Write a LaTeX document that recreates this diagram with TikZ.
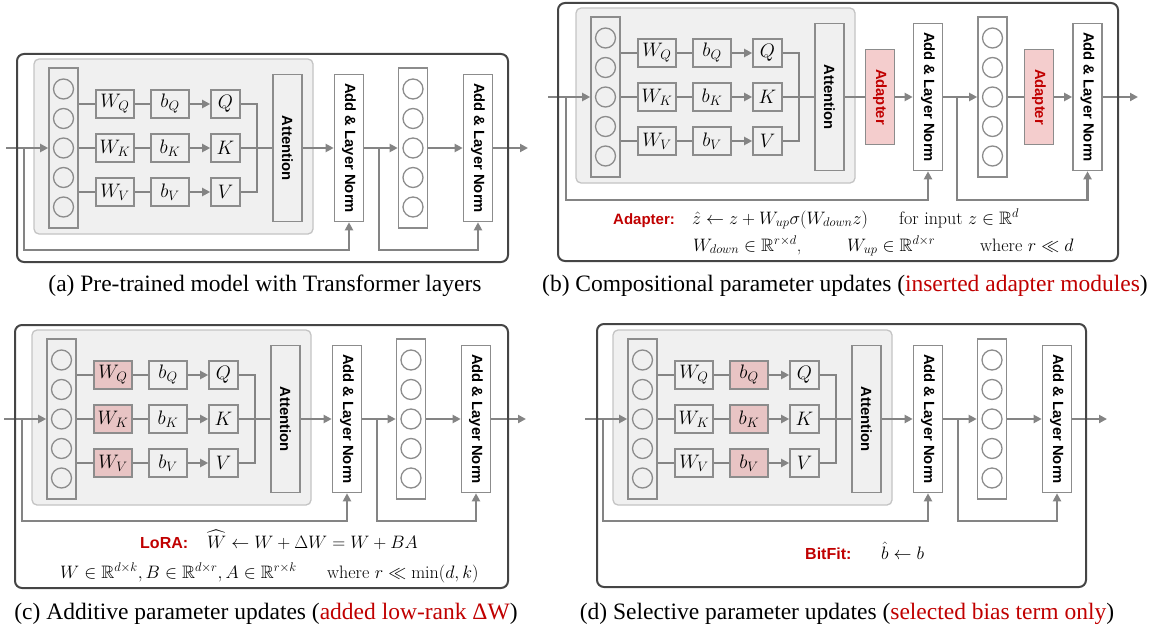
\RequirePackage{fix-cm}
\documentclass[tikz,border=0pt]{standalone}
\usepackage{amsmath}
\usepackage{amssymb}
\usepackage{graphicx}
\usepackage{fontspec}
\newfontfamily\capfont{Liberation Serif}
\newfontfamily\labfont{Liberation Sans}
\usetikzlibrary{
    arrows.meta
}

\definecolor{linegray}{HTML}{848484}
\definecolor{boxgray}{HTML}{8C8C8C}
\definecolor{panelgray}{HTML}{F0F0F0}
\definecolor{paneledge}{HTML}{C4C4C4}
\definecolor{framegray}{HTML}{454545}
\definecolor{hlred}{HTML}{C00000}
\definecolor{adapink}{HTML}{F4CDCD}
\definecolor{tunepink}{HTML}{E8C4C4}

\tikzset{
    link/.style={draw=linegray,line width=2.6pt},
    flow/.style={link,-{Triangle[length=8pt,width=8pt]}},
    box/.style={draw=boxgray,line width=1.6pt,inner sep=0pt},
    wbox/.style={box,minimum width=38pt,minimum height=28pt,font=\fontsize{19.5}{21}\selectfont},
    qbox/.style={box,minimum width=29pt,minimum height=28pt,font=\fontsize{19.5}{21}\selectfont},
    colbox/.style={box,minimum width=29pt,minimum height=160pt},
    unit/.style={circle,draw=boxgray,line width=1.3pt,minimum size=20pt,inner sep=0pt},
    attbox/.style={box,minimum width=29pt,minimum height=147pt,font=\labfont\bfseries\fontsize{14.8}{16}\selectfont},
    normbox/.style={attbox},
    adabox/.style={attbox,fill=adapink,minimum height=95pt,text=hlred},
    graybox/.style={draw=paneledge,fill=panelgray,line width=1.3pt,rounded corners=5pt},
    frame/.style={draw=framegray,line width=2pt,rounded corners=7pt},
    tag/.style={anchor=base west,inner sep=0pt,text=hlred,font=\labfont\bfseries\fontsize{16}{18}\selectfont},
    mathtxt/.style={anchor=base west,inner sep=0pt,font=\fontsize{18}{20}\selectfont},
    caption/.style={anchor=base,inner sep=0pt,font=\capfont\fontsize{23.5}{26}\selectfont}
}

\newcommand{\anlabel}{\rotatebox{-90}{Add \& Layer Norm}}

% shared part: input units, W/b projections and attention
\newcommand{\attnblock}[2]{%
    \draw[graybox] (0,-89) rectangle (279,86);
    \node[colbox] (col) at (29.5,0) {};
    \foreach \i/\yy in {1/-59,2/-29.5,3/0,4/29.5,5/59}
        \node[unit] (u\i) at (29.5,\yy) {};
    \foreach \r/\yy in {Q/-44,K/0,V/44} {
        \node[wbox,fill=#1] (w\r) at (81,\yy) {$W_{\r}$};
        \node[wbox,fill=#2] (b\r) at (136,\yy) {$b_{\r}$};
        \node[qbox] (o\r) at (191.5,\yy) {$\r$};
        \draw[link] (col.east |- w\r) -- (w\r);
        \draw[link] (w\r) -- (b\r);
        \draw[flow] (b\r) -- (o\r);
    }
    \node[attbox] (att) at (253.5,0) {\rotatebox{-90}{Attention}};
    \coordinate (mg) at (223,0);
    \draw[link] (oQ) -| (mg) |- (oV);
    \draw[link] (oK) -- (att);
    \coordinate (in) at (-28,0);
    \coordinate (sk) at (-10,0);
    \draw[link] (in) -- (sk);
    \draw[flow] (sk) -- (col);
}

% add & norm, feed-forward units, add & norm
\newcommand{\plaintail}{%
    \node[normbox] (an1) at (315,0) {\anlabel};
    \node[colbox] (ffn) at (379,0) {};
    \foreach \i/\yy in {1/-59,2/-29.5,3/0,4/29.5,5/59}
        \node[unit] (v\i) at (379,\yy) {};
    \node[normbox] (an2) at (444,0) {\anlabel};
    \coordinate (br) at (345,0);
    \coordinate (out) at (494,0);
    \draw[flow] (att) -- (an1);
    \draw[link] (an1) -- (br);
    \draw[flow] (br) -- (ffn);
    \draw[flow] (ffn) -- (an2);
    \draw[flow] (an2) -- (out);
    \draw[flow] (sk) -- ++(0,102) -| (an1);
    \draw[flow] (br) -- ++(0,102) -| (an2);
}

\begin{document}
\begin{tikzpicture}[x=1pt,y=-1pt]
    \useasboundingbox (0,0) rectangle (1158,626);

    % (a) pre-trained
    \begin{scope}[shift={(34,148)},name prefix=a-]
        \attnblock{none}{none}
        \plaintail
        \draw[frame] (-17,-94) rectangle (474,114);
    \end{scope}

    % (b) adapters
    \begin{scope}[shift={(576,97)},name prefix=b-]
        \attnblock{none}{none}
        \node[adabox] (ad1) at (304,0) {\rotatebox{-90}{Adapter}};
        \node[normbox] (an1) at (352,0) {\anlabel};
        \node[colbox] (ffn) at (416.5,0) {};
        \foreach \i/\yy in {1/-59,2/-29.5,3/0,4/29.5,5/59}
            \node[unit] (v\i) at (416.5,\yy) {};
        \node[adabox] (ad2) at (463,0) {\rotatebox{-90}{Adapter}};
        \node[normbox] (an2) at (511.5,0) {\anlabel};
        \coordinate (br) at (381,0);
        \coordinate (out) at (562,0);
        \draw[link] (att) -- (ad1);
        \draw[flow] (ad1) -- (an1);
        \draw[link] (an1) -- (br);
        \draw[flow] (br) -- (ffn);
        \draw[link] (ffn) -- (ad2);
        \draw[flow] (ad2) -- (an2);
        \draw[flow] (an2) -- (out);
        \draw[flow] (sk) -- ++(0,103) -| (an1);
        \draw[flow] (br) -- ++(0,103) -| (an2);
        \node[tag,font=\labfont\bfseries\fontsize{15}{17}\selectfont] (adtag) at (37,127) {Adapter:};
        \node[mathtxt] (adeq) at (116,127) {$\hat{z}\leftarrow z+W_{up}\sigma(W_{down}z)$};
        \node[mathtxt] (adin) at (323,127) {for input $z\in\mathbb{R}^d$};
        \node[mathtxt] (addown) at (117,154) {$W_{down}\in\mathbb{R}^{r\times d}$,};
        \node[mathtxt] (adup) at (271,154) {$W_{up}\in\mathbb{R}^{d\times r}$};
        \node[mathtxt] (adrank) at (404,154) {where $r\ll d$};
        \draw[frame] (-18,-94) rectangle (542,164);
    \end{scope}

    % (c) LoRA
    \begin{scope}[shift={(32,419)},name prefix=c-]
        \attnblock{tunepink}{none}
        \plaintail
        \node[tag] (loratag) at (108,129) {LoRA:};
        \node[mathtxt] (loraeq) at (175,129) {$\widehat{W}\leftarrow W+\Delta W=W+BA$};
        \node[mathtxt] (loradim) at (28,159) {$W\in\mathbb{R}^{d\times k},B\in\mathbb{R}^{d\times r},A\in\mathbb{R}^{r\times k}$};
        \node[mathtxt] (lorarank) at (295,159) {where $r\ll\min(d,k)$};
        \draw[frame] (-17,-94) rectangle (476,169);
    \end{scope}

    % (d) BitFit
    \begin{scope}[shift={(613,419)},name prefix=d-]
        \attnblock{none}{tunepink}
        \plaintail
        \node[tag] (bftag) at (192,140) {BitFit:};
        \node[mathtxt] (bfeq) at (268,140) {$\hat{b}\leftarrow b$};
        \draw[frame] (-16,-95) rectangle (473,168);
    \end{scope}

    \node[caption] (capa) at (265,291) {(a) Pre-trained model with Transformer layers};
    \node[caption] (capb) at (845,291) {(b) Compositional parameter updates (\textcolor{hlred}{inserted adapter modules})};
    \node[caption] (capc) at (266,619) {(c) Additive parameter updates (\textcolor{hlred}{added low-rank ΔW})};
    \node[caption] (capd) at (847,619) {(d) Selective parameter updates (\textcolor{hlred}{selected bias term only})};
\end{tikzpicture}
\end{document}
